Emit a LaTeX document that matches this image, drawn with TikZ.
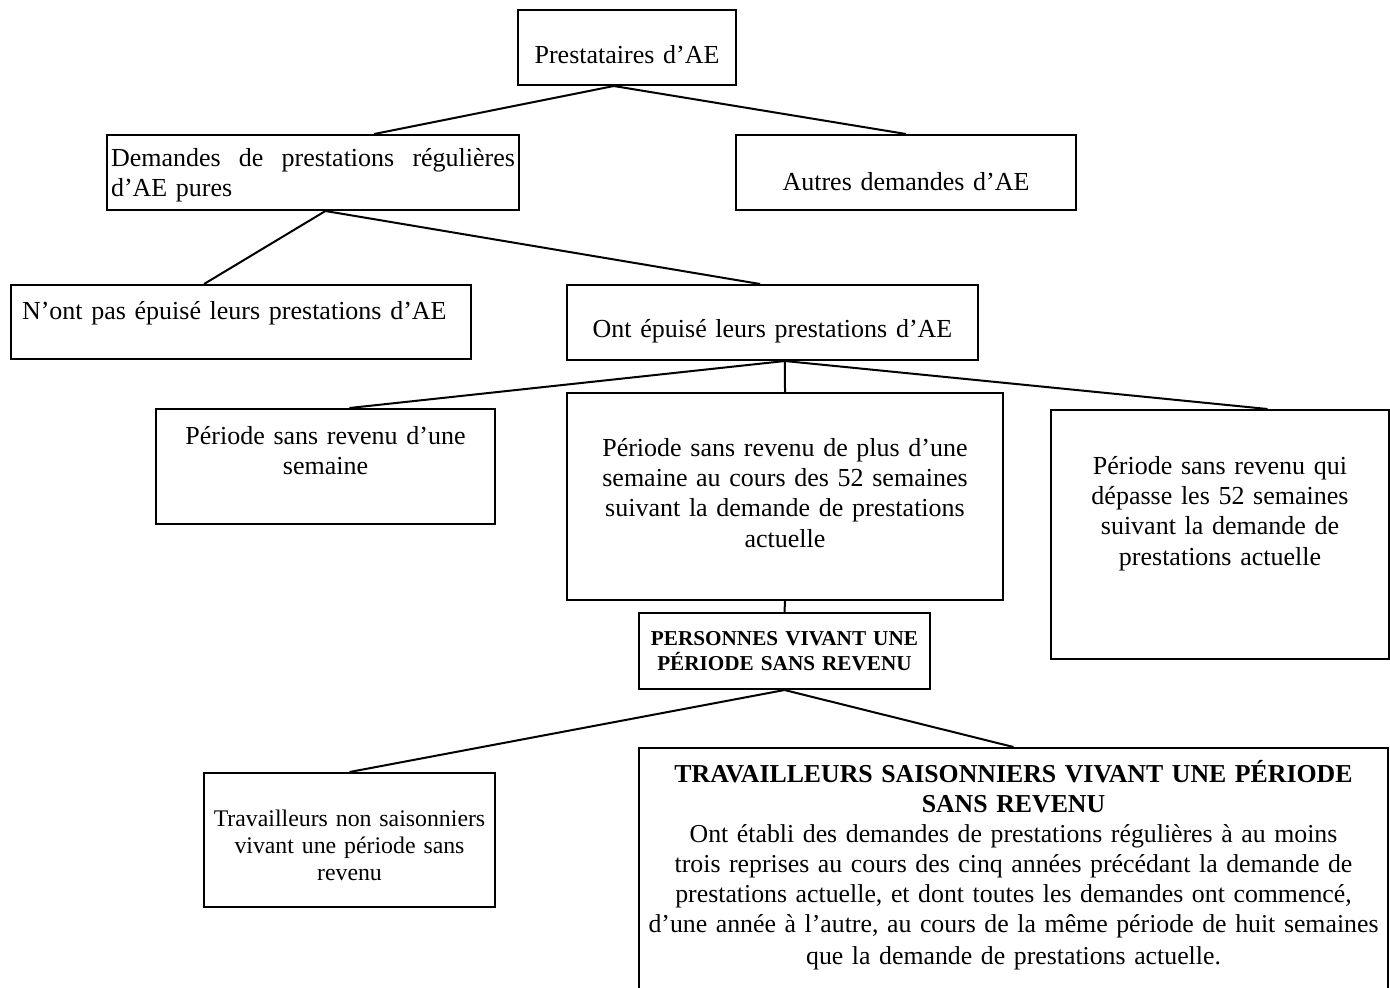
\documentclass[tikz,border=0pt]{standalone}
\usepackage{fontspec}
\setmainfont{Liberation Serif}
\usetikzlibrary{calc}

\newcommand{\bodyfont}{\fontsize{13pt}{15.2pt}\selectfont}
\newcommand{\capsfont}{\fontsize{10.6pt}{12.5pt}\selectfont\bfseries}
\newcommand{\smallbody}{\fontsize{11.9pt}{13.7pt}\selectfont}

\begin{document}
\begin{tikzpicture}[x=0.5pt, y=-0.5pt]
    % Styles
    \tikzstyle{box} = [draw, line width=1pt, inner xsep=0pt, inner ysep=0pt, align=center,
                       anchor=north west, font=\bodyfont]
    \tikzstyle{link} = [line width=1pt]

    \useasboundingbox[fill=white] (0,0) rectangle (1390,987);

    % Top level
    \node[box, text width=109pt, text height=26.5pt, text depth=11pt] (prest) at (517,9) {Prestataires d’AE};

    % Second level
    \node[box, align=left, inner xsep=2pt, text width=202pt, text height=15.5pt, text depth=22pt]
        (dem_pures) at (106,134) {Demandes\hfill de\hfill prestations\hfill régulières\\d’AE pures};
    \node[box, text width=170pt, text height=27.5pt, text depth=10pt] (autres) at (735,134) {Autres demandes d’AE};

    % Third level
    \node[box, align=left, inner xsep=5.5pt, text width=219pt, text height=17pt, text depth=20pt]
        (non_epuise) at (10,284) {N’ont pas épuisé leurs prestations d’AE};
    \node[box, text width=205.5pt, text height=26pt, text depth=11.5pt] (epuise) at (566,284) {Ont épuisé leurs prestations d’AE};

    % Periods without income
    \node[box, text width=169.5pt, text height=17.5pt, text depth=40pt]
        (sem_une) at (155,408) {Période sans revenu d’une\\semaine};
    \node[box, text width=218pt, text height=31.5pt, text depth=72pt]
        (sem_plus) at (566,392) {Période sans revenu de plus d’une\\semaine au cours des 52 semaines\\suivant la demande de prestations\\actuelle};
    \node[box, text width=169pt, text height=32pt, text depth=92.5pt]
        (sem_depasse) at (1050,409) {Période sans revenu qui\\dépasse les 52 semaines\\suivant la demande de\\prestations actuelle};

    % Persons and workers
    \node[box, font=\capsfont, text width=145.5pt, text height=16pt, text depth=22pt]
        (pers_psr) at (638,612) {PERSONNES VIVANT UNE\\PÉRIODE SANS REVENU};
    \node[box, font=\smallbody, text width=145.5pt, text height=26.5pt, text depth=40.5pt]
        (trav_non) at (203,772) {Travailleurs non saisonniers\\vivant une période sans\\revenu};
    \node[box, font={\fontsize{12.9pt}{15pt}\selectfont}, text width=374.5pt, text height=17pt, text depth=107pt]
        (trav_sais) at (638,747) {\textbf{TRAVAILLEURS SAISONNIERS VIVANT UNE PÉRIODE}\\\textbf{SANS REVENU}\\Ont établi des demandes de prestations régulières à au moins\\trois reprises au cours des cinq années précédant la demande de\\prestations actuelle, et dont toutes les demandes ont commencé,\\d’une année à l’autre, au cours de la même période de huit semaines\\[1pt]que la demande de prestations actuelle.};

    % Branch points
    \coordinate (prest_b) at ($(prest.south west)!0.44!(prest.south east)$);
    \coordinate (dem_b) at ($(dem_pures.south west)!0.53!(dem_pures.south east)$);
    \coordinate (epuise_b) at ($(epuise.south west)!0.53!(epuise.south east)$);

    % Connectors
    \draw[link] (prest_b) -- ($(dem_pures.north west)!0.648!(dem_pures.north east)$);
    \draw[link] (prest_b) -- (autres.north);
    \draw[link] (dem_b) -- ($(non_epuise.north west)!0.42!(non_epuise.north east)$);
    \draw[link] (dem_b) -- ($(epuise.north west)!0.47!(epuise.north east)$);
    \draw[link] (epuise_b) -- ($(sem_une.north west)!0.57!(sem_une.north east)$);
    \draw[link] (epuise_b) -- (sem_plus.north);
    \draw[link] (epuise_b) -- ($(sem_depasse.north west)!0.64!(sem_depasse.north east)$);
    \draw[link] (sem_plus.south) -- (pers_psr.north);
    \foreach \t in {trav_non, trav_sais} {
        \draw[link] (pers_psr.south) -- (\t.north);
    }
\end{tikzpicture}
\end{document}
